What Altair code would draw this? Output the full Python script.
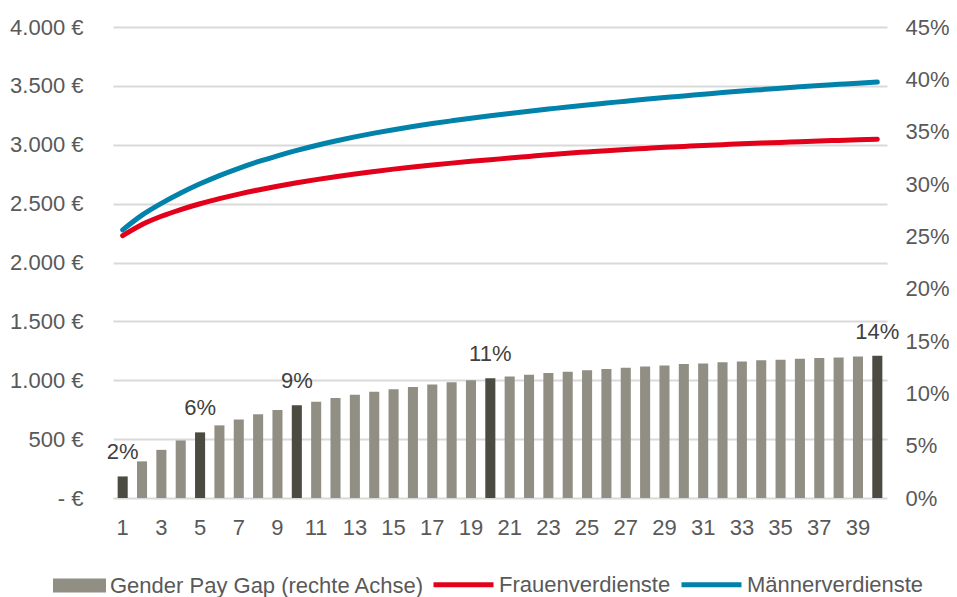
import altair as alt
import pandas as pd

jahre = list(range(1, 41))

gap = [0.0206, 0.035, 0.046, 0.055, 0.0627, 0.0694, 0.075, 0.080, 0.084, 0.0885,
       0.092, 0.0955, 0.0987, 0.1015, 0.1038, 0.106, 0.1085, 0.1105, 0.1124, 0.1143,
       0.116, 0.1178, 0.1194, 0.1207, 0.122, 0.1232, 0.1245, 0.1257, 0.1267, 0.128,
       0.1286, 0.1296, 0.1305, 0.1315, 0.1321, 0.133, 0.1337, 0.1343, 0.1353, 0.136]

frauen = [2228, 2323, 2393, 2450, 2499, 2542, 2581, 2616, 2648, 2677,
          2704, 2729, 2752, 2773, 2793, 2811, 2828, 2844, 2859, 2873,
          2887, 2901, 2915, 2928, 2939, 2950, 2960, 2969, 2978, 2986,
          2994, 3001, 3008, 3014, 3020, 3026, 3032, 3037, 3042, 3047]

maenner = [2277, 2402, 2502, 2590, 2668, 2738, 2800, 2856, 2906, 2952,
           2994, 3032, 3067, 3099, 3128, 3155, 3180, 3203, 3225, 3246,
           3266, 3285, 3303, 3321, 3338, 3354, 3370, 3386, 3401, 3415,
           3429, 3443, 3456, 3468, 3480, 3492, 3503, 3513, 3523, 3532]

hervorgehoben = [1, 5, 10, 20, 40]

serie_gap = "Gender Pay Gap (rechte Achse)"
serien_linien = ["Frauenverdienste", "Männerverdienste"]
farben_linien = ["#E2001A", "#0082AA"]
grau = "#918F83"
dunkel = "#4B4B42"
textfarbe = "#595959"

FONT = "Liberation Sans, Arial, sans-serif"
FS = 22

bars_df = pd.DataFrame({
    "jahr": jahre,
    "gap": gap,
    "serie": [serie_gap] * len(jahre),
    "hl": [j in hervorgehoben for j in jahre],
})
text_df = bars_df[bars_df["hl"]].copy()

lines_df = pd.concat([
    pd.DataFrame({"jahr": jahre, "wert": frauen, "serie": serien_linien[0]}),
    pd.DataFrame({"jahr": jahre, "wert": maenner, "serie": serien_linien[1]}),
])

x_enc = alt.X(
    "jahr:O",
    title=None,
    scale=alt.Scale(paddingInner=0.48, paddingOuter=0.24),
    axis=alt.Axis(
        values=list(range(1, 41, 2)), labelAngle=0, ticks=False, domain=False,
        labelFont=FONT, labelFontSize=FS, labelColor=textfarbe, labelPadding=19,
        grid=False,
    ),
)

lines = alt.Chart(lines_df).mark_line(strokeWidth=5, interpolate="monotone", strokeCap="round").encode(
    x=x_enc,
    y=alt.Y(
        "wert:Q",
        title=None,
        scale=alt.Scale(domain=[0, 4000], nice=False),
        axis=alt.Axis(
            orient="left", values=list(range(0, 4001, 500)),
            labelExpr="datum.value == 0 ? '- €' : replace(format(datum.value, ',.0f'), ',', '.') + ' €'",
            grid=True, gridColor="#D9D9D9", gridWidth=2, ticks=False, domain=False,
            labelFont=FONT, labelFontSize=FS, labelColor=textfarbe, labelPadding=30,
        ),
    ),
    stroke=alt.Stroke(
        "serie:N",
        scale=alt.Scale(domain=serien_linien, range=farben_linien),
        legend=alt.Legend(
            title=None, orient="none", legendX=318, legendY=525, direction="horizontal",
            symbolType="stroke", symbolSize=3600, symbolStrokeWidth=5,
            labelFont=FONT, labelFontSize=FS, labelColor=textfarbe, labelOffset=3,
            labelLimit=400, columnPadding=0,
        ),
    ),
)

y_right = alt.Y(
    "gap:Q",
    title=None,
    scale=alt.Scale(domain=[0, 0.45], nice=False),
    axis=alt.Axis(
        orient="right", values=[i * 0.05 for i in range(10)], format=".0%",
        grid=False, ticks=False, domain=False,
        labelFont=FONT, labelFontSize=FS, labelColor=textfarbe, labelPadding=18,
    ),
)

bars = alt.Chart(bars_df).mark_bar().encode(
    x=x_enc,
    y=y_right,
    fill=alt.condition(
        "datum.hl",
        alt.value(dunkel),
        alt.Fill(
            "serie:N",
            scale=alt.Scale(domain=[serie_gap], range=[grau]),
            legend=alt.Legend(
                title=None, orient="none", legendX=-60, legendY=532,
                symbolType="M-1,-0.264H1V0.264H-1Z", symbolSize=2809, symbolStrokeWidth=0,
                labelFont=FONT, labelFontSize=FS, labelColor=textfarbe, labelOffset=4,
                labelLimit=400,
            ),
        ),
    ),
)

labels = alt.Chart(text_df).mark_text(
    baseline="alphabetic", dy=-17, font=FONT, fontSize=FS, color="#404040"
).encode(
    x=x_enc,
    y=y_right,
    text=alt.Text("gap:Q", format=".0%"),
)

chart = alt.layer(lines, alt.layer(bars, labels)).resolve_scale(
    y="independent", fill="independent", stroke="independent"
).properties(
    width=774, height=471,
    autosize=alt.AutoSizeParams(type="none"),
    padding={"left": 105, "top": 19, "right": 62, "bottom": 99},
).configure_view(stroke=None)

chart.save("out.html", embed_options={"renderer": "svg", "actions": False})
